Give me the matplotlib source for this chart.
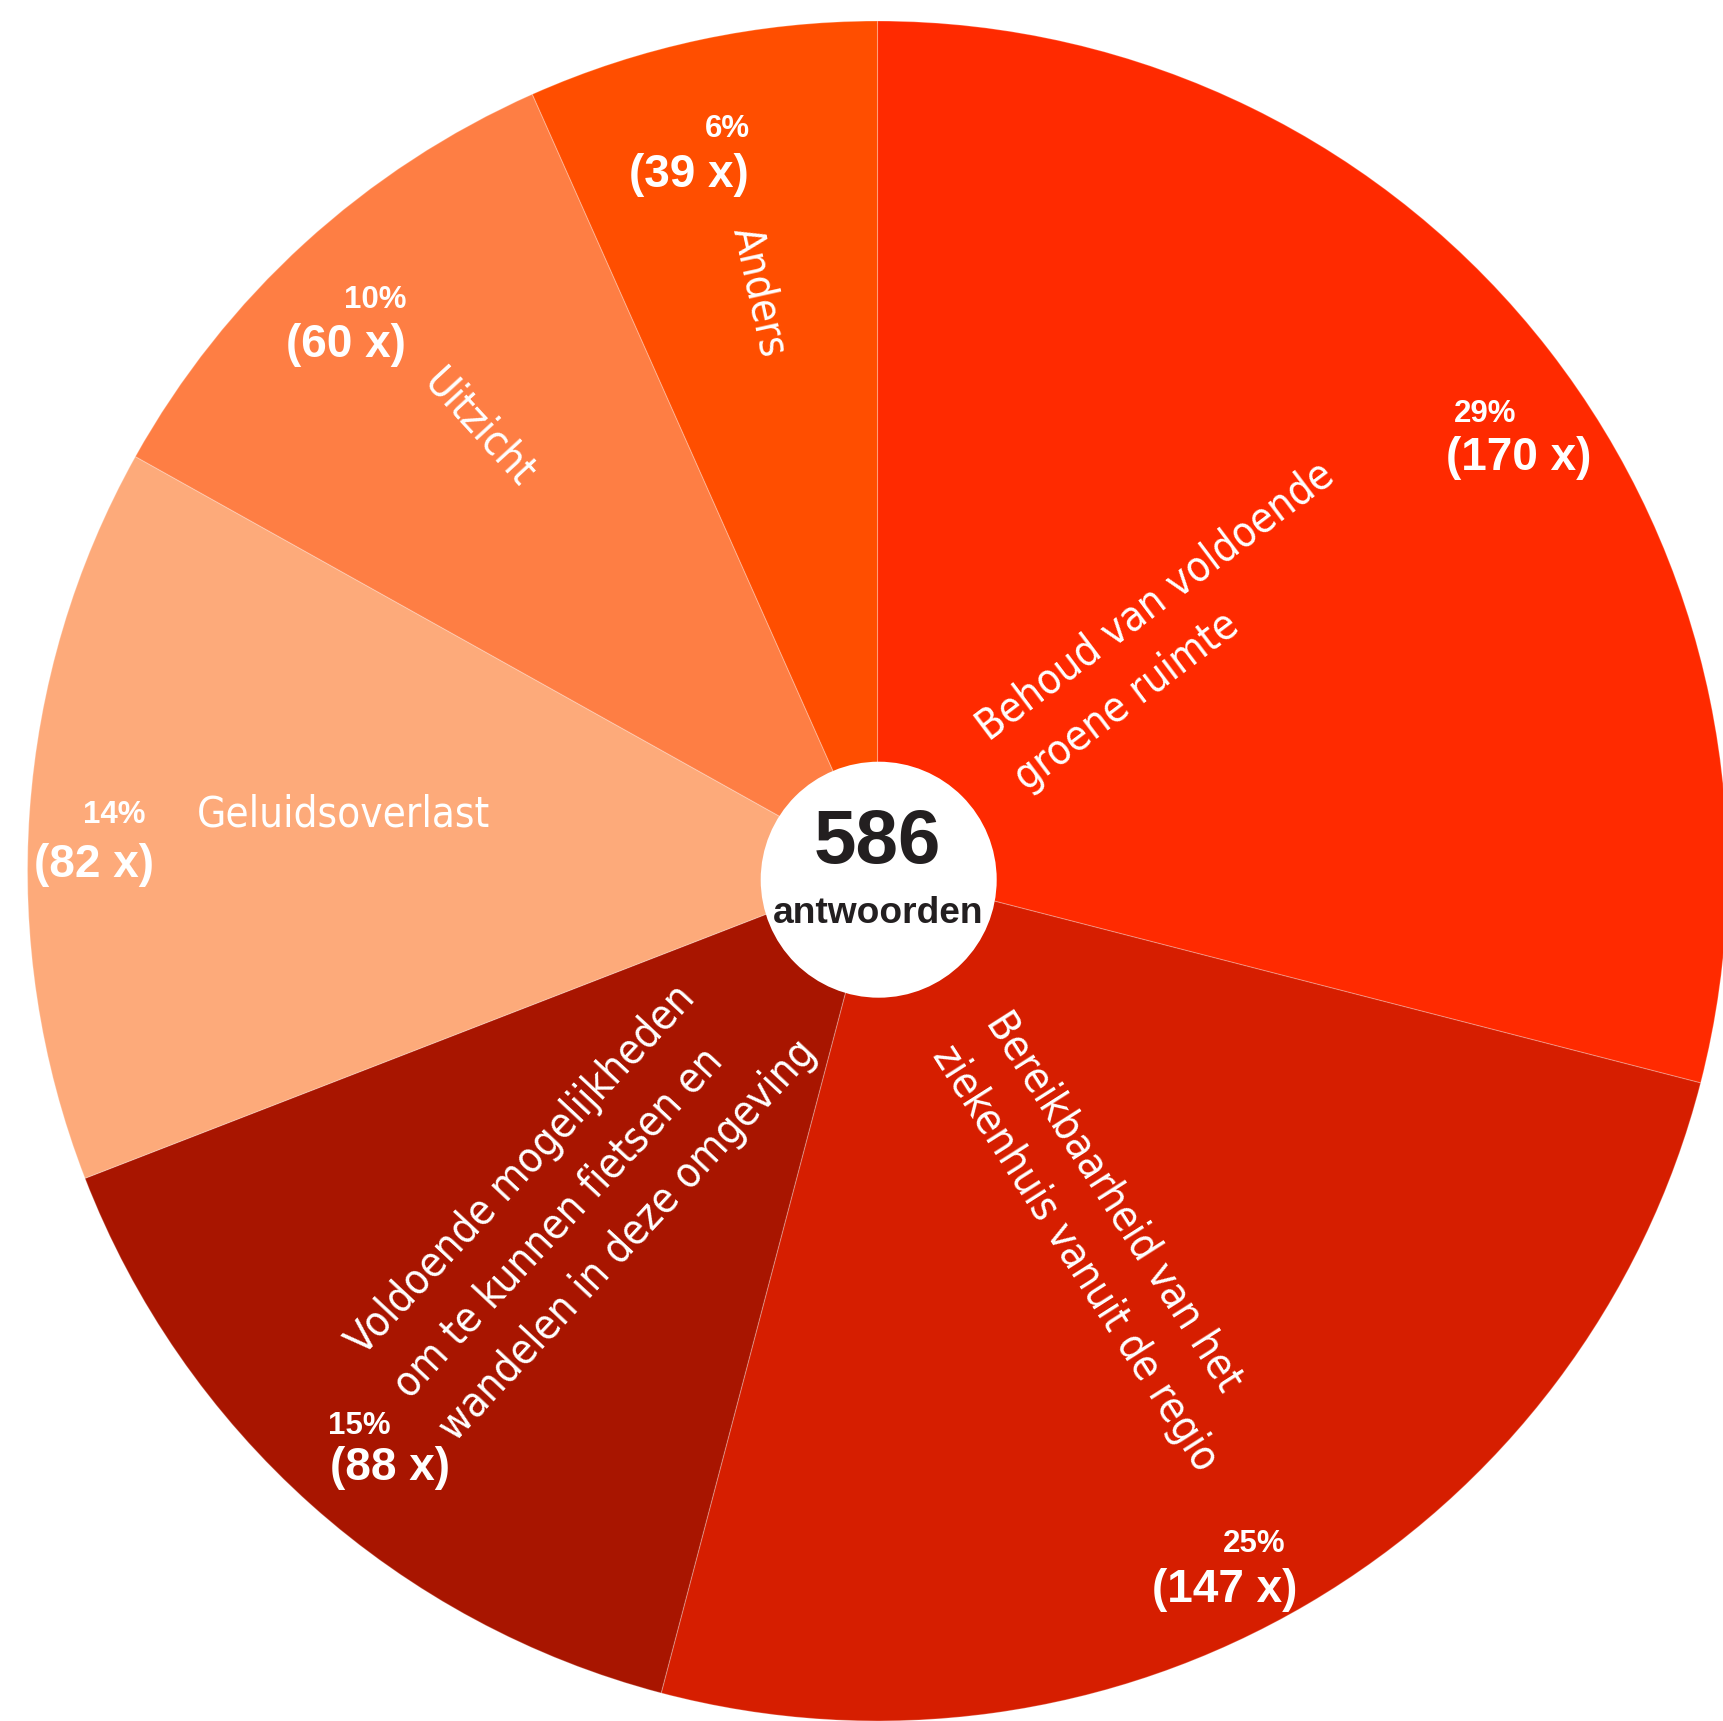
import os
import math
import matplotlib
matplotlib.use("Agg")
import matplotlib.pyplot as plt
from matplotlib import font_manager as fm
from matplotlib.patches import Circle

# ---------------- data ----------------
categories = [
    "Behoud van voldoende\ngroene ruimte",
    "Bereikbaarheid van het\nziekenhuis vanuit de regio",
    "Voldoende mogelijkheden\nom te kunnen fietsen en\nwandelen in deze omgeving",
    "Geluidsoverlast",
    "Uitzicht",
    "Anders",
]
counts = [170, 147, 88, 82, 60, 39]
percent_labels = ["29%", "25%", "15%", "14%", "10%", "6%"]
center_caption = "antwoorden"
colors = ["#FF2A00", "#D61E00", "#A81500", "#FDAA7A", "#FE7E44", "#FF4E00"]

# ---------------- fonts ----------------
def find_font(patterns):
    files = [f.fname for f in fm.fontManager.ttflist]
    for p in patterns:
        for f in files:
            if os.path.basename(f).lower().startswith(p.lower()):
                return f
    return None

light_path = find_font([
    "NotoSans-ExtraCondensedLight", "LiberationSansNarrow-Regular",
    "NotoSans-CondensedLight", "NotoSans-ExtraCondensed.", "NotoSans-Condensed.",
    "DejaVuSansCondensed.", "Roboto-Light", "Lato-Light",
])
if light_path:
    light_fp = fm.FontProperties(fname=light_path)
else:
    light_fp = fm.FontProperties(family="DejaVu Sans", stretch="condensed")
bold_family = ["Liberation Sans", "DejaVu Sans"]

# ---------------- figure ----------------
W, H = 1723, 1721
fig = plt.figure(figsize=(W / 100, H / 100), dpi=100)
ax = fig.add_axes([0, 0, 1, 1])

cx, cy, R = 877.5, H - 871.0, 850.0
ax.pie(counts, colors=colors, startangle=90, counterclock=False,
       center=(cx, cy), radius=R, frame=True,
       wedgeprops=dict(linewidth=0.8, edgecolor=(1, 1, 1, 0.25)))
ax.set_xlim(0, W)
ax.set_ylim(0, H)
ax.axis("off")

# ---------------- category labels ----------------
# anchor (screen px, first-line baseline start) and rotation
label_layout = [
    (988.3, 741.7, 37.0),
    (985.0, 1021.7, -57.5),
    (363.3, 1356.7, 47.0),
    (196.7, 826.7, 0.0),
    (422.3, 383.3, -47.5),
    (733.3, 230.0, -77.5),
]
line_gap = 63.0
base_size = 38.0

# fit font size so "Geluidsoverlast" has the reference width (~293 px)
probe = ax.text(0, 0, categories[3], fontproperties=light_fp, fontsize=base_size)
fig.canvas.draw()
w = probe.get_window_extent(renderer=fig.canvas.get_renderer()).width
probe.remove()
fs = base_size * max(0.75, min(1.3, 293.0 / w))

for cat, (sx, sy, rot) in zip(categories, label_layout):
    th = math.radians(rot)
    down = (math.sin(th), -math.cos(th))
    for k, line in enumerate(cat.split("\n")):
        x = sx + k * line_gap * down[0]
        y = (H - sy) + k * line_gap * down[1]
        ax.text(x, y, line, fontproperties=light_fp, fontsize=fs, color="white",
                rotation=rot, rotation_mode="anchor", ha="left", va="baseline",
                zorder=5)

# ---------------- percentage / count labels ----------------
pct_pos = [(1485.0, 421.7), (1254.2, 1551.7), (359.2, 1434.0),
           (113.8, 823.3), (375.3, 308.3), (727.2, 136.7)]
cnt_pos = [(1518.3, 470.0), (1225.0, 1601.7), (390.0, 1480.0),
           (94.5, 876.7), (345.5, 356.7), (688.7, 186.7)]
for p, c, (px, py), (qx, qy) in zip(percent_labels, counts, pct_pos, cnt_pos):
    ax.text(px, H - py, p, family=bold_family, fontweight="bold", fontsize=22.5,
            color="white", ha="center", va="baseline", zorder=5)
    ax.text(qx, H - qy, f"({c} x)", family=bold_family, fontweight="bold",
            fontsize=33, color="white", ha="center", va="baseline", zorder=5)

# ---------------- center ----------------
ax.add_patch(Circle((878.7, H - 879.7), 118, facecolor="white", edgecolor="none", zorder=6))
ax.text(877.5, H - 863.3, f"{sum(counts)}", family=bold_family, fontweight="bold",
        fontsize=55, color="#231F20", ha="center", va="baseline", zorder=7)
ax.text(878.0, H - 923.3, center_caption, family=bold_family, fontweight="bold",
        fontsize=26.7, color="#231F20", ha="center", va="baseline", zorder=7)

fig.savefig("out.png", dpi=100, facecolor="white")
